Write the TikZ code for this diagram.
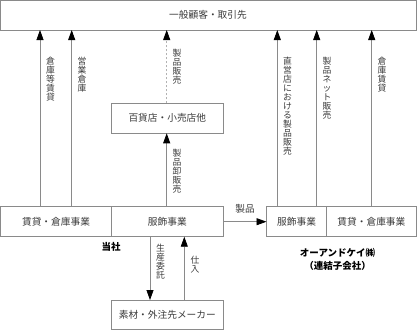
\documentclass[tikz,border=0pt]{standalone}
\usepackage{fontspec}
\newfontfamily\jpfont{Noto Sans CJK JP}
\usetikzlibrary{arrows.meta}
\definecolor{linegray}{HTML}{8A8A8A}
\definecolor{textgray}{HTML}{3A3A3A}
\tikzset{
  box/.style={draw=linegray, line width=0.8pt, inner sep=0pt},
  conn/.style={draw=linegray, line width=0.8pt, -{Triangle[width=7pt,length=10pt,fill=black,color=black]}},
  lbl/.style={font=\jpfont\fontsize{9.7}{10}\selectfont, text=textgray, inner sep=0pt},
  vlbl/.style={font=\jpfont\fontsize{8.8}{9}\selectfont, text=textgray, inner sep=0pt, align=center, anchor=north},
  bold/.style={font=\jpfont\bfseries\fontsize{9.5}{12.5}\selectfont, text=black, inner sep=0pt, align=center}
}
\begin{document}
\begin{tikzpicture}[x=1pt,y=-1pt]
\useasboundingbox (0,0) rectangle (417,330);
% boxes
\draw[box] (0.5,0.5) rectangle (416,30);
\node[lbl] (top) at (208,15) {一般顧客・取引先};

\draw[box] (111.7,103.3) rectangle (223,133.3);
\node[lbl] (dept) at (167.3,118.3) {百貨店・小売店他};

\draw[box] (0.5,206.7) rectangle (223,236.7);
\draw[box] (111.7,206.7) -- (111.7,236.7);
\node[lbl] (rent) at (56,221.7) {賃貸・倉庫事業};
\node[lbl] (fash) at (167.3,221.7) {服飾事業};
\node[bold] (tosha) at (111,246.5) {当社};

\draw[box] (266.5,206.7) rectangle (416,236.7);
\draw[box] (326.7,206.7) -- (326.7,236.7);
\node[lbl] (ofash) at (296.6,221.7) {服飾事業};
\node[lbl] (orent) at (371.4,221.7) {賃貸・倉庫事業};
\node[bold] (ok) at (337.5,259.5) {オーアンドケイ㈱\\（連結子会社）};

\draw[box] (111.7,300) rectangle (223,329.5);
\node[lbl] (maker) at (167.3,314.8) {素材・外注先メーカー};

% connectors
\draw[conn] (40,206.7) -- (40,30);
\draw[conn] (71.7,206.7) -- (71.7,30);
\draw[conn, dash pattern=on 2pt off 2pt, draw=gray!60] (166.7,103.3) -- (166.7,30);
\draw[conn] (166.7,206.7) -- (166.7,133.3);
\draw[conn] (223,221.7) -- (266.5,221.7);
\draw[conn] (277.3,206.7) -- (277.3,30);
\draw[conn] (316.7,206.7) -- (316.7,30);
\draw[conn] (371.7,206.7) -- (371.7,30);
\draw[conn] (150,236.7) -- (150,300);
\draw[conn] (184.3,300) -- (184.3,236.7);

% labels
\node[vlbl] at (50.5,57) {倉\\庫\\等\\賃\\貸};
\node[vlbl] at (82,57) {営\\業\\倉\\庫};
\node[vlbl] at (177,49) {製\\品\\販\\売};
\node[vlbl] at (177,149) {製\\品\\卸\\販\\売};
\node[lbl] at (245,209) {製品};
\node[vlbl] at (287.5,57) {直\\営\\店\\に\\お\\け\\る\\製\\品\\販\\売};
\node[vlbl] at (327,57) {製\\品\\ネ\\ッ\\ト\\販\\売};
\node[vlbl] at (382,57) {倉\\庫\\賃\\貸};
\node[vlbl] at (160.5,244) {生\\産\\委\\託};
\node[vlbl] at (195,256) {仕\\入};
\end{tikzpicture}
\end{document}
